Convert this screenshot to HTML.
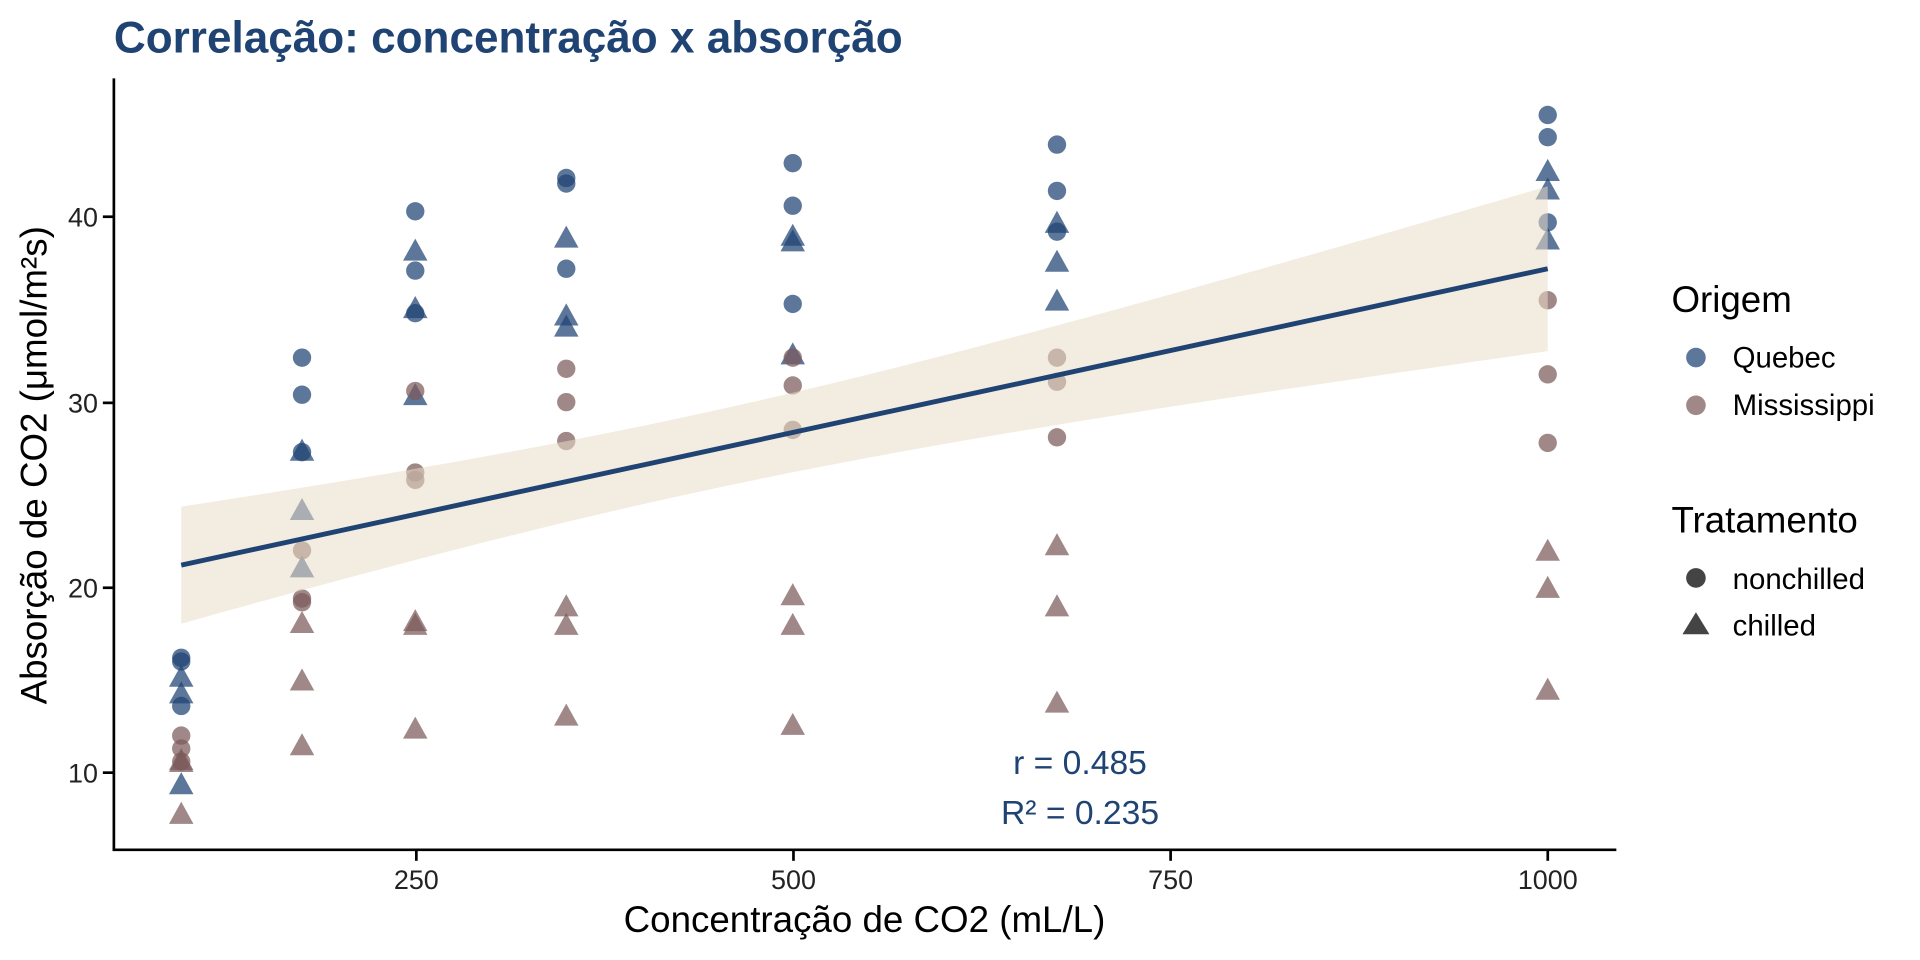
<!DOCTYPE html>
<html><head><meta charset="utf-8"><style>
body{margin:0;background:#fff;}
svg{display:block;font-family:"Liberation Sans",Arial,sans-serif;}
</style></head><body>
<svg id="s" width="1920" height="960" xmlns="http://www.w3.org/2000/svg">
<g transform="scale(1.2245)">
<text x="93" y="43" font-size="36" font-weight="bold" fill="#1f4373">Correlação: concentração x absorção</text>
<g id="pts"></g>
<g id="rib"></g>
<line x1="93" y1="64" x2="93" y2="695" stroke="#000" stroke-width="2.2"/>
<line x1="92" y1="694" x2="1320" y2="694" stroke="#000" stroke-width="2.2"/>
<g font-size="22" fill="#222" text-anchor="end">
<line x1="84" y1="631" x2="93" y2="631" stroke="#000" stroke-width="2.2"/><text x="80" y="639">10</text>
<line x1="84" y1="480" x2="93" y2="480" stroke="#000" stroke-width="2.2"/><text x="80" y="488">20</text>
<line x1="84" y1="329" x2="93" y2="329" stroke="#000" stroke-width="2.2"/><text x="80" y="337">30</text>
<line x1="84" y1="177" x2="93" y2="177" stroke="#000" stroke-width="2.2"/><text x="80" y="185">40</text>
</g>
<g font-size="22" fill="#222" text-anchor="middle">
<line x1="340" y1="694" x2="340" y2="703" stroke="#000" stroke-width="2.2"/><text x="340" y="726">250</text>
<line x1="648" y1="694" x2="648" y2="703" stroke="#000" stroke-width="2.2"/><text x="648" y="726">500</text>
<line x1="956" y1="694" x2="956" y2="703" stroke="#000" stroke-width="2.2"/><text x="956" y="726">750</text>
<line x1="1264" y1="694" x2="1264" y2="703" stroke="#000" stroke-width="2.2"/><text x="1264" y="726">1000</text>
</g>
<text x="706" y="761" font-size="30" text-anchor="middle">Concentração de CO2 (mL/L)</text>
<text transform="translate(38,380) rotate(-90)" font-size="30" text-anchor="middle">Absorção de CO2 (μmol/m²s)</text>
<text x="882" y="632" font-size="27.5" fill="#1f4373" text-anchor="middle">r = 0.485</text>
<text x="882" y="673" font-size="27.5" fill="#1f4373" text-anchor="middle">R² = 0.235</text>
<text x="1365" y="255" font-size="30">Origem</text>
<circle cx="1385" cy="292" r="8" fill="#1f4373" opacity="0.72"/><text x="1415" y="300" font-size="24">Quebec</text>
<circle cx="1385" cy="331" r="8" fill="#7b5a5b" opacity="0.72"/><text x="1415" y="339" font-size="24">Mississippi</text>
<text x="1365" y="435" font-size="30">Tratamento</text>
<circle cx="1385" cy="472" r="8" fill="#444"/><text x="1415" y="481" font-size="24">nonchilled</text>
<polygon points="1385,500 1396,518 1374,518" fill="#444"/><text x="1415" y="519" font-size="24">chilled</text>
</g>
</svg>
<script>
var X=[95,175,250,350,500,675,1000];
function px(c){return 148+(c-95)*1.2331;}
function py(v){return 631-(v-10)*15.13;}
var data={Qn:[[16.0,30.4,34.8,37.2,35.3,39.2,39.7],[13.6,27.3,37.1,41.8,40.6,41.4,44.3],[16.2,32.4,40.3,42.1,42.9,43.9,45.5]],
Qc:[[14.2,24.1,30.3,34.6,32.5,35.4,38.7],[9.3,27.3,35.0,38.8,38.6,37.5,42.4],[15.1,21.0,38.1,34.0,38.9,39.6,41.4]],
Mn:[[10.6,19.2,26.2,30.0,30.9,32.4,35.5],[12.0,22.0,30.6,31.8,32.4,31.1,31.5],[11.3,19.4,25.8,27.9,28.5,28.1,27.8]],
Mc:[[10.5,14.9,18.1,18.9,19.5,22.2,21.9],[7.7,11.4,12.3,13.0,12.5,13.7,14.4],[10.6,18.0,17.9,17.9,17.9,18.9,19.9]]};
var h='';
for(var k in data){var col=k[0]=='Q'?'#1f4373':'#7b5a5b';var tri=k[1]=='c';
data[k].forEach(function(r){r.forEach(function(v,i){var x=px(X[i]),y=py(v);
if(tri)h+='<polygon points="'+x+','+(y-11)+' '+(x+10)+','+(y+7)+' '+(x-10)+','+(y+7)+'" fill="'+col+'" opacity="0.72"/>';
else h+='<circle cx="'+x+'" cy="'+y+'" r="7.5" fill="'+col+'" opacity="0.72"/>';});});}
document.getElementById('pts').innerHTML=h;
function fit(c){return 21.2+(c-95)*(16/905);}
function se(c){return Math.sqrt(4.41+4.82e-5*(c-435)*(c-435));}
var up=[],lo=[];
for(var c=95;c<=1000;c+=5){up.push(px(c)+','+py(fit(c)+se(c)));lo.unshift(px(c)+','+py(fit(c)-se(c)));}
document.getElementById('rib').innerHTML='<polygon points="'+up.concat(lo).join(' ')+'" fill="#eadcc6" opacity="0.55"/><line x1="'+px(95)+'" y1="'+py(21.2)+'" x2="'+px(1000)+'" y2="'+py(37.2)+'" stroke="#1f4373" stroke-width="4"/>';
</script>
</body></html>
